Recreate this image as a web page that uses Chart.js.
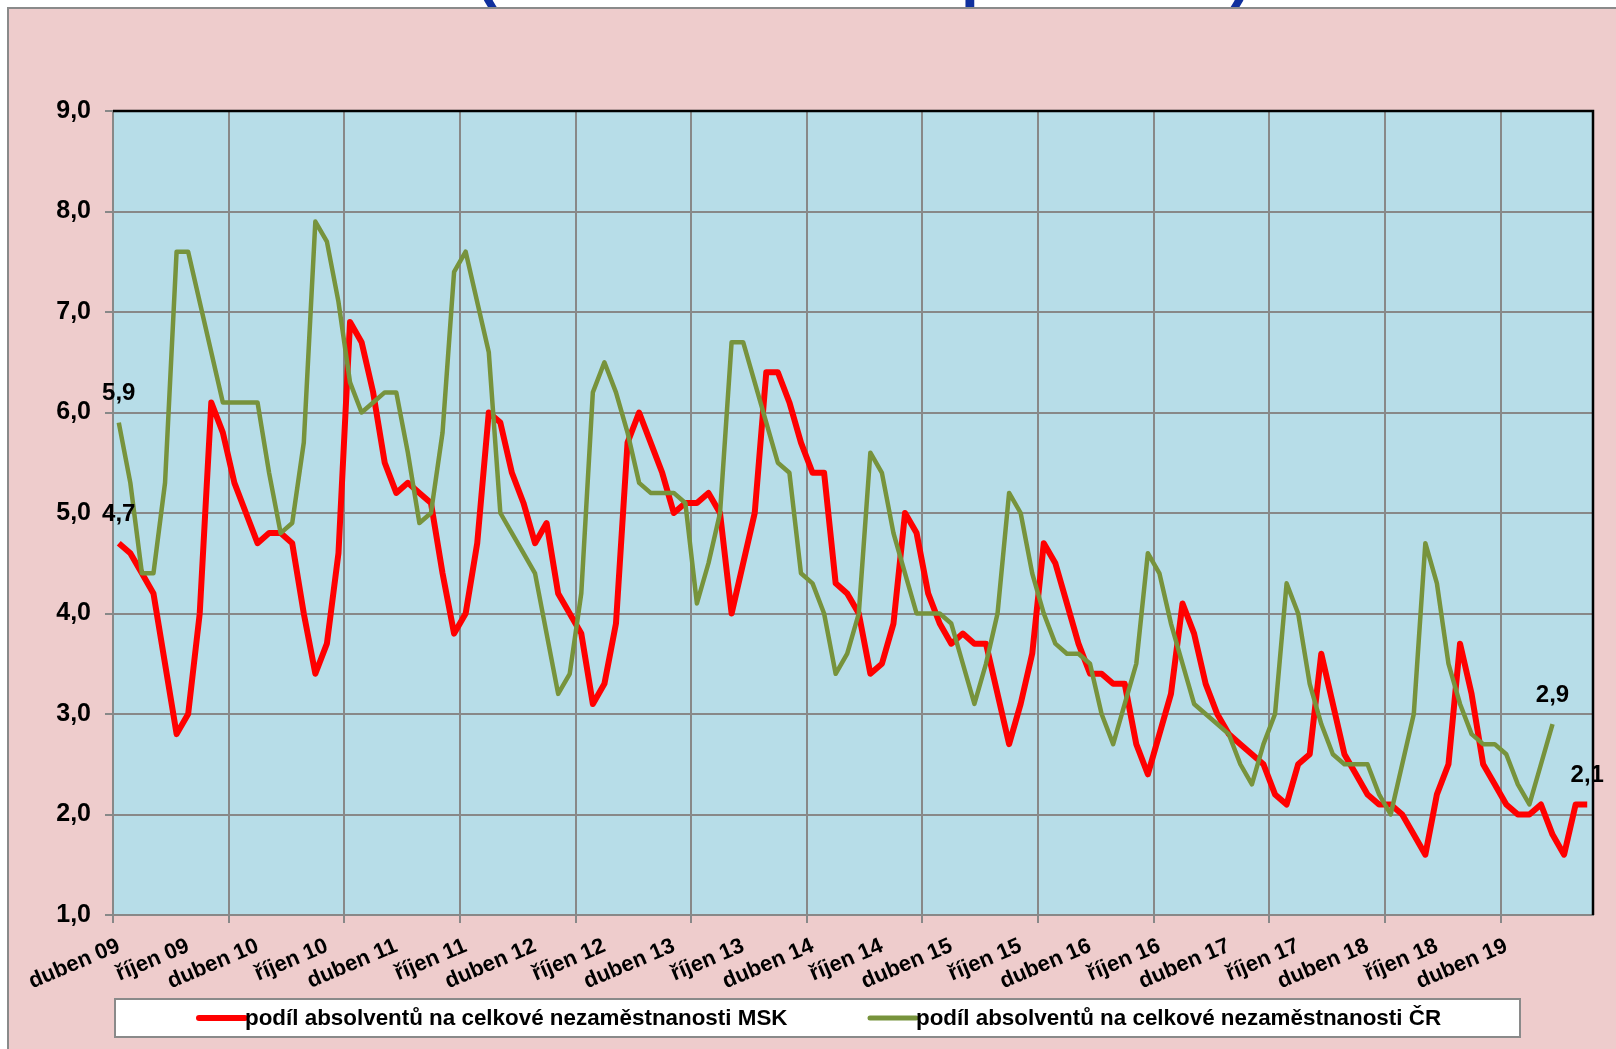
<!DOCTYPE html>
<html>
<head>
<meta charset="utf-8">
<script src="https://cdn.jsdelivr.net/npm/chart.js@4.4.1/dist/chart.umd.min.js"></script>
<style>
  html, body { margin: 0; padding: 0; background: #fff; }
  #wrap { width: 1616px; height: 1049px; }
</style>
</head>
<body>
<div id="wrap"><canvas id="chart" width="1616" height="1049"></canvas></div>
<script>
// month names in Czech, the series starts in April 2009
const monthNames = ['duben', 'květen', 'červen', 'červenec', 'srpen', 'září',
    'říjen', 'listopad', 'prosinec', 'leden', 'únor', 'březen'];
const startYear = 9;
const monthCount = 128;

// labels written under the x axis, one every 6 months
const tickLabels = ['duben 09', 'říjen 09', 'duben 10', 'říjen 10', 'duben 11', 'říjen 11',
    'duben 12', 'říjen 12', 'duben 13', 'říjen 13', 'duben 14', 'říjen 14', 'duben 15',
    'říjen 15', 'duben 16', 'říjen 16', 'duben 17', 'říjen 17', 'duben 18', 'říjen 18', 'duben 19'];

// share of graduates in total unemployment, Moravian-Silesian region (%)
const mskValues = [
    4.7, 4.6, 4.4, 4.2, 3.5, 2.8, 3.0, 4.0, 6.1, 5.8, 5.3, 5.0,
    4.7, 4.8, 4.8, 4.7, 4.0, 3.4, 3.7, 4.6, 6.9, 6.7, 6.2, 5.5,
    5.2, 5.3, 5.2, 5.1, 4.4, 3.8, 4.0, 4.7, 6.0, 5.9, 5.4, 5.1,
    4.7, 4.9, 4.2, 4.0, 3.8, 3.1, 3.3, 3.9, 5.7, 6.0, 5.7, 5.4,
    5.0, 5.1, 5.1, 5.2, 5.0, 4.0, 4.5, 5.0, 6.4, 6.4, 6.1, 5.7,
    5.4, 5.4, 4.3, 4.2, 4.0, 3.4, 3.5, 3.9, 5.0, 4.8, 4.2, 3.9,
    3.7, 3.8, 3.7, 3.7, 3.2, 2.7, 3.1, 3.6, 4.7, 4.5, 4.1, 3.7,
    3.4, 3.4, 3.3, 3.3, 2.7, 2.4, 2.8, 3.2, 4.1, 3.8, 3.3, 3.0,
    2.8, 2.7, 2.6, 2.5, 2.2, 2.1, 2.5, 2.6, 3.6, 3.1, 2.6, 2.4,
    2.2, 2.1, 2.1, 2.0, 1.8, 1.6, 2.2, 2.5, 3.7, 3.2, 2.5, 2.3,
    2.1, 2.0, 2.0, 2.1, 1.8, 1.6, 2.1, 2.1
];

// share of graduates in total unemployment, Czech Republic (%)
const crValues = [
    5.9, 5.3, 4.4, 4.4, 5.3, 7.6, 7.6, 7.1, 6.6, 6.1, 6.1, 6.1,
    6.1, 5.4, 4.8, 4.9, 5.7, 7.9, 7.7, 7.1, 6.3, 6.0, 6.1, 6.2,
    6.2, 5.6, 4.9, 5.0, 5.8, 7.4, 7.6, 7.1, 6.6, 5.0, 4.8, 4.6,
    4.4, 3.8, 3.2, 3.4, 4.2, 6.2, 6.5, 6.2, 5.8, 5.3, 5.2, 5.2,
    5.2, 5.1, 4.1, 4.5, 5.0, 6.7, 6.7, 6.3, 5.9, 5.5, 5.4, 4.4,
    4.3, 4.0, 3.4, 3.6, 4.0, 5.6, 5.4, 4.8, 4.4, 4.0, 4.0, 4.0,
    3.9, 3.5, 3.1, 3.5, 4.0, 5.2, 5.0, 4.4, 4.0, 3.7, 3.6, 3.6,
    3.5, 3.0, 2.7, 3.1, 3.5, 4.6, 4.4, 3.9, 3.5, 3.1, 3.0, 2.9,
    2.8, 2.5, 2.3, 2.7, 3.0, 4.3, 4.0, 3.3, 2.9, 2.6, 2.5, 2.5,
    2.5, 2.2, 2.0, 2.5, 3.0, 4.7, 4.3, 3.5, 3.1, 2.8, 2.7, 2.7,
    2.6, 2.3, 2.1, 2.5, 2.9
];

const seriesNames = ['podíl absolventů na celkové nezaměstnanosti MSK',
    'podíl absolventů na celkové nezaměstnanosti ČR'];
const seriesColors = ['#FF0000', '#77933C'];

const fontFamily = '"Liberation Sans", Arial, sans-serif';

// one category per month
const categories = [];
for (let i = 0; i < monthCount; i++) {
    let yr = startYear + Math.floor((i + 3) / 12);
    categories.push(monthNames[i % 12] + ' ' + String(yr).padStart(2, '0'));
}

function fmt(v) {
    return v.toFixed(1).replace('.', ',');
}

// background, plot frame, value labels and the boxed legend
const decorPlugin = {
    id: 'decor',
    beforeDraw(chart) {
        const ctx = chart.ctx;
        const a = chart.chartArea;
        ctx.save();
        ctx.fillStyle = '#ffffff';
        ctx.fillRect(0, 0, chart.width, chart.height);
        ctx.fillStyle = '#EECCCC';
        ctx.fillRect(8, 8, chart.width - 8, chart.height - 8);
        ctx.strokeStyle = '#8a8a8a';
        ctx.lineWidth = 2;
        ctx.beginPath();
        ctx.moveTo(8, chart.height);
        ctx.lineTo(8, 8);
        ctx.lineTo(chart.width, 8);
        ctx.stroke();
        ctx.fillStyle = '#B7DDE8';
        ctx.fillRect(a.left, a.top, a.right - a.left, a.bottom - a.top);

        // bottom of the slide title that is cut off by the top edge
        ctx.beginPath();
        ctx.rect(0, 0, chart.width, 7);
        ctx.clip();
        ctx.fillStyle = '#10309e';
        ctx.font = 'bold 64px ' + fontFamily;
        ctx.textBaseline = 'alphabetic';
        ctx.fillText('(', 476, -5);
        ctx.fillText('p', 961, -5);
        ctx.fillText(')', 1230, -5);
        ctx.restore();
    },
    beforeDatasetsDraw(chart) {
        const ctx = chart.ctx;
        const a = chart.chartArea;
        ctx.save();
        ctx.strokeStyle = '#000000';
        ctx.lineWidth = 2.5;
        ctx.beginPath();
        ctx.moveTo(a.left, a.top);
        ctx.lineTo(a.right, a.top);
        ctx.lineTo(a.right, a.bottom);
        ctx.stroke();
        ctx.restore();
    },
    afterDatasetsDraw(chart) {
        const ctx = chart.ctx;
        ctx.save();
        ctx.font = 'bold 24px ' + fontFamily;
        ctx.fillStyle = '#000000';
        ctx.textAlign = 'center';
        ctx.textBaseline = 'middle';
        chart.data.datasets.forEach((ds, k) => {
            const pts = chart.getDatasetMeta(k).data;
            [0, pts.length - 1].forEach(i => {
                ctx.fillText(fmt(ds.data[i]), pts[i].x, pts[i].y - 29);
            });
        });
        ctx.restore();
    },
    afterDraw(chart) {
        const ctx = chart.ctx;
        ctx.save();
        ctx.fillStyle = '#ffffff';
        ctx.fillRect(115, 999, 1405, 38);
        ctx.strokeStyle = '#8a8a8a';
        ctx.lineWidth = 2;
        ctx.strokeRect(115, 999, 1405, 38);

        const starts = [199, 870];
        ctx.font = 'bold 22.4px ' + fontFamily;
        ctx.textBaseline = 'middle';
        ctx.textAlign = 'left';
        ctx.lineCap = 'round';
        chart.data.datasets.forEach((ds, k) => {
            ctx.strokeStyle = ds.borderColor;
            ctx.lineWidth = k === 0 ? 6 : 5;
            ctx.beginPath();
            ctx.moveTo(starts[k], 1018);
            ctx.lineTo(starts[k] + 46, 1018);
            ctx.stroke();
            ctx.fillStyle = '#000000';
            ctx.fillText(ds.label, starts[k] + 46, 1019);
        });
        ctx.restore();
    }
};

new Chart(document.getElementById('chart'), {
    type: 'line',
    data: {
        labels: categories,
        datasets: [{
            label: seriesNames[0],
            data: mskValues,
            borderColor: seriesColors[0],
            borderWidth: 6,
            order: 1
        }, {
            label: seriesNames[1],
            data: crValues,
            borderColor: seriesColors[1],
            borderWidth: 4.5,
            order: 0
        }]
    },
    options: {
        responsive: false,
        animation: false,
        layout: { padding: { top: 111, right: 23, left: 0, bottom: 0 } },
        elements: {
            point: { radius: 0 },
            line: { tension: 0, borderJoinStyle: 'round' }
        },
        plugins: {
            legend: { display: false },
            tooltip: { enabled: false }
        },
        scales: {
            x: {
                offset: true,
                grid: {
                    offset: true,
                    lineWidth: 2,
                    tickLength: 8,
                    color: c => (c.index % 10 === 0 ? '#888888' : 'rgba(0,0,0,0)')
                },
                border: { color: '#888888', width: 2 },
                ticks: {
                    autoSkip: false,
                    minRotation: 23,
                    maxRotation: 23,
                    padding: 10,
                    color: '#000000',
                    font: { family: fontFamily, size: 22, weight: 'bold' },
                    callback: (v, i) => (i % 6 === 0 && i / 6 < tickLabels.length ? tickLabels[i / 6] : '')
                },
                afterFit: s => { s.height = 134; }
            },
            y: {
                min: 1,
                max: 9,
                grid: { color: '#888888', lineWidth: 2, tickLength: 8 },
                border: { color: '#888888', width: 2 },
                ticks: {
                    stepSize: 1,
                    padding: 14,
                    color: '#000000',
                    font: { family: fontFamily, size: 25, weight: 'bold' },
                    callback: v => fmt(v)
                },
                afterFit: s => { s.width = 113; }
            }
        }
    },
    plugins: [decorPlugin]
});
</script>
</body>
</html>
